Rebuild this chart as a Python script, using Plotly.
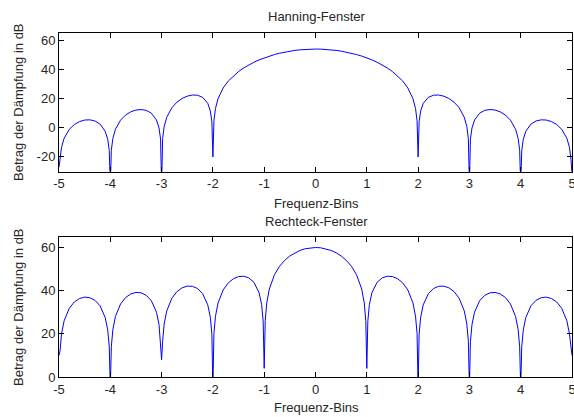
import plotly.graph_objects as go

# ---------------- data ----------------
hann_x = [
    -5, -4.98, -4.95, -4.9, -4.8, -4.7, -4.6, -4.5, -4.4, -4.3, -4.2, -4.1, -4.05, -4.02,
    -4, -3.98, -3.95, -3.9, -3.8, -3.7, -3.6, -3.5, -3.4, -3.3, -3.2, -3.1, -3.05, -3.02,
    -3, -2.98, -2.95, -2.9, -2.8, -2.7, -2.6, -2.5, -2.4, -2.3, -2.2, -2.1, -2.05, -2.02,
    -2, -1.98, -1.95, -1.9, -1.8, -1.7, -1.6, -1.5, -1.4, -1.3, -1.2, -1.1, -1.0,
    -0.9, -0.8, -0.7, -0.6, -0.5, -0.4, -0.3, -0.2, -0.1,
    0, 0.1, 0.2, 0.3, 0.4, 0.5, 0.6, 0.7, 0.8, 0.9,
    1.0, 1.1, 1.2, 1.3, 1.4, 1.5, 1.6, 1.7, 1.8, 1.9, 1.95, 1.98,
    2, 2.02, 2.05, 2.1, 2.2, 2.3, 2.4, 2.5, 2.6, 2.7, 2.8, 2.9, 2.95, 2.98,
    3, 3.02, 3.05, 3.1, 3.2, 3.3, 3.4, 3.5, 3.6, 3.7, 3.8, 3.9, 3.95, 3.98,
    4, 4.02, 4.05, 4.1, 4.2, 4.3, 4.4, 4.5, 4.6, 4.7, 4.8, 4.9, 4.95, 4.98,
    5,
]
hann_db = [
    -27, -21.47, -13.38, -7.20, -1.06, 2.28, 4.25, 5.29, 5.45, 4.67, 2.54, -2.40, -7.97, -15.69,
    -40, -15.43, -7.29, -1.03, 5.25, 8.77, 10.92, 12.14, 12.50, 11.93, 10.01, 5.31, -0.14, -7.79,
    -40, -7.41, 0.80, 7.19, 13.78, 17.60, 20.09, 21.68, 22.45, 22.32, 20.88, 16.74, 11.58, 4.12,
    -20, 4.76, 13.18, 19.93, 27.31, 32.06, 35.65, 38.57, 41.03, 43.14, 44.96, 46.57, 47.96,
    49.18, 50.22, 51.14, 51.91, 52.56, 53.07, 53.47, 53.76, 53.93,
    53.98, 53.93, 53.76, 53.47, 53.07, 52.56, 51.91, 51.14, 50.22, 49.18,
    47.96, 46.57, 44.96, 43.14, 41.03, 38.57, 35.65, 32.06, 27.31, 19.93, 13.18, 4.76,
    -20, 4.12, 11.58, 16.74, 20.88, 22.32, 22.45, 21.68, 20.09, 17.60, 13.78, 7.19, 0.80, -7.41,
    -40, -7.79, -0.14, 5.31, 10.01, 11.93, 12.50, 12.14, 10.92, 8.77, 5.25, -1.03, -7.29, -15.43,
    -40, -15.69, -7.97, -2.40, 2.54, 4.67, 5.45, 5.29, 4.25, 2.28, -1.06, -7.20, -13.38, -21.47,
    -32,
]

rect_x = [
    -5, -4.98, -4.95, -4.9, -4.8, -4.7, -4.6, -4.5, -4.4, -4.3, -4.2, -4.1, -4.05, -4.02,
    -4, -3.98, -3.95, -3.9, -3.8, -3.7, -3.6, -3.5, -3.4, -3.3, -3.2, -3.1, -3.05, -3.02,
    -3, -2.98, -2.95, -2.9, -2.8, -2.7, -2.6, -2.5, -2.4, -2.3, -2.2, -2.1, -2.05, -2.02,
    -2, -1.98, -1.95, -1.9, -1.8, -1.7, -1.6, -1.5, -1.4, -1.3, -1.2, -1.1, -1.05, -1.02,
    -1, -0.98, -0.95, -0.9, -0.8, -0.7, -0.6, -0.5, -0.4, -0.3, -0.2, -0.1,
    0, 0.1, 0.2, 0.3, 0.4, 0.5, 0.6, 0.7, 0.8, 0.9, 0.95, 0.98,
    1, 1.02, 1.05, 1.1, 1.2, 1.3, 1.4, 1.5, 1.6, 1.7, 1.8, 1.9, 1.95, 1.98,
    2, 2.02, 2.05, 2.1, 2.2, 2.3, 2.4, 2.5, 2.6, 2.7, 2.8, 2.9, 2.95, 2.98,
    3, 3.02, 3.05, 3.1, 3.2, 3.3, 3.4, 3.5, 3.6, 3.7, 3.8, 3.9, 3.95, 3.98,
    4, 4.02, 4.05, 4.1, 4.2, 4.3, 4.4, 4.5, 4.6, 4.7, 4.8, 4.9, 4.95, 4.98,
    5,
]
rect_db = [
    10, 12.08, 20.06, 26.06, 31.82, 34.78, 36.36, 37.00, 36.75, 35.55, 32.98, 27.60, 21.80, 13.94,
    -5, 14.02, 22.02, 28.04, 33.84, 36.86, 38.49, 39.18, 38.99, 37.85, 35.34, 30.03, 24.26, 16.42,
    8, 16.54, 24.55, 30.61, 36.50, 39.59, 41.32, 42.10, 42.02, 40.99, 38.59, 33.42, 27.71, 19.91,
    -5, 20.09, 28.15, 34.28, 40.33, 43.61, 45.53, 46.53, 46.69, 45.94, 43.85, 39.03, 33.52, 25.85,
    4, 26.19, 34.39, 40.77, 47.37, 51.31, 54.05, 56.08, 57.58, 58.67, 59.42, 59.86,
    60, 59.86, 59.42, 58.67, 57.58, 56.08, 54.05, 51.31, 47.37, 40.77, 34.39, 26.19,
    4, 25.85, 33.52, 39.03, 43.85, 45.94, 46.69, 46.53, 45.53, 43.61, 40.33, 34.28, 28.15, 20.09,
    -5, 19.91, 27.71, 33.42, 38.59, 40.99, 42.02, 42.10, 41.32, 39.59, 36.50, 30.61, 24.55, 16.54,
    -5, 16.42, 24.26, 30.03, 35.34, 37.85, 38.99, 39.18, 38.49, 36.86, 33.84, 28.04, 22.02, 14.02,
    -5, 13.94, 21.80, 27.60, 32.98, 35.55, 36.75, 37.00, 36.36, 34.78, 31.82, 26.06, 20.06, 12.08,
    10,
]

x_ticks = [-5, -4, -3, -2, -1, 0, 1, 2, 3, 4, 5]
x_tick_labels = ["-5", "-4", "-3", "-2", "-1", "0", "1", "2", "3", "4", "5"]
hann_y_ticks = [-20, 0, 20, 40, 60]
hann_y_labels = ["-20", "0", "20", "40", "60"]
rect_y_ticks = [0, 20, 40, 60]
rect_y_labels = ["0", "20", "40", "60"]

titles = ["Hanning-Fenster", "Rechteck-Fenster"]
x_title = "Frequenz-Bins"
y_title = "Betrag der Dämpfung in dB"

# ---------------- figure ----------------
FONT = "Liberation Sans, Arial, sans-serif"
TXT = "#262626"

fig = go.Figure()
fig.add_trace(go.Scatter(x=hann_x, y=hann_db, mode="lines",
                         line=dict(color="#0000ff", width=1), xaxis="x", yaxis="y",
                         showlegend=False, hoverinfo="skip"))
fig.add_trace(go.Scatter(x=rect_x, y=rect_db, mode="lines",
                         line=dict(color="#0000ff", width=1), xaxis="x2", yaxis="y2",
                         showlegend=False, hoverinfo="skip"))

axis_common = dict(showline=True, linecolor="#000000", linewidth=1, mirror="ticks",
                   ticks="inside", ticklen=5, tickcolor="#000000", showgrid=False,
                   zeroline=False, tickfont=dict(family=FONT, size=13, color=TXT),
                   ticklabeloverflow="allow", automargin=False, fixedrange=True)

T, B = 33, 40
H = 417 - T - B
top_dom = [(377 - 171.5) / H, 1.0]
bot_dom = [0.0, (377 - 236.7) / H]

fig.update_layout(
    template="none",
    width=574, height=417,
    margin=dict(l=59, r=2, t=T, b=B, autoexpand=False),
    paper_bgcolor="white", plot_bgcolor="white",
    xaxis=dict(domain=[0, 1], range=[-5, 5], tickvals=x_ticks, ticktext=x_tick_labels,
               anchor="y", **axis_common),
    yaxis=dict(domain=top_dom, range=[-30, 65], tickvals=hann_y_ticks,
               ticktext=hann_y_labels, anchor="x", **axis_common),
    xaxis2=dict(domain=[0, 1], range=[-5, 5], tickvals=x_ticks, ticktext=x_tick_labels,
                anchor="y2", **axis_common),
    yaxis2=dict(domain=bot_dom, range=[0, 65], tickvals=rect_y_ticks,
                ticktext=rect_y_labels, anchor="x2", **axis_common),
)

def py(px):
    return (377 - px) / H

def pxx(px):
    return (px - 59) / 513

ann_font = dict(family=FONT, size=13, color=TXT)
anns = [
    dict(text=titles[0], x=pxx(316), y=py(17)),
    dict(text=titles[1], x=pxx(316), y=py(221)),
    dict(text=x_title, x=pxx(316), y=py(203)),
    dict(text=x_title, x=pxx(316), y=py(407)),
    dict(text=y_title, x=pxx(18), y=py(102), textangle=-90),
    dict(text=y_title, x=pxx(18), y=py(307), textangle=-90),
]
for a in anns:
    fig.add_annotation(xref="paper", yref="paper", showarrow=False,
                       xanchor="center", yanchor="middle", font=ann_font, **a)

fig.write_html("out.html")
